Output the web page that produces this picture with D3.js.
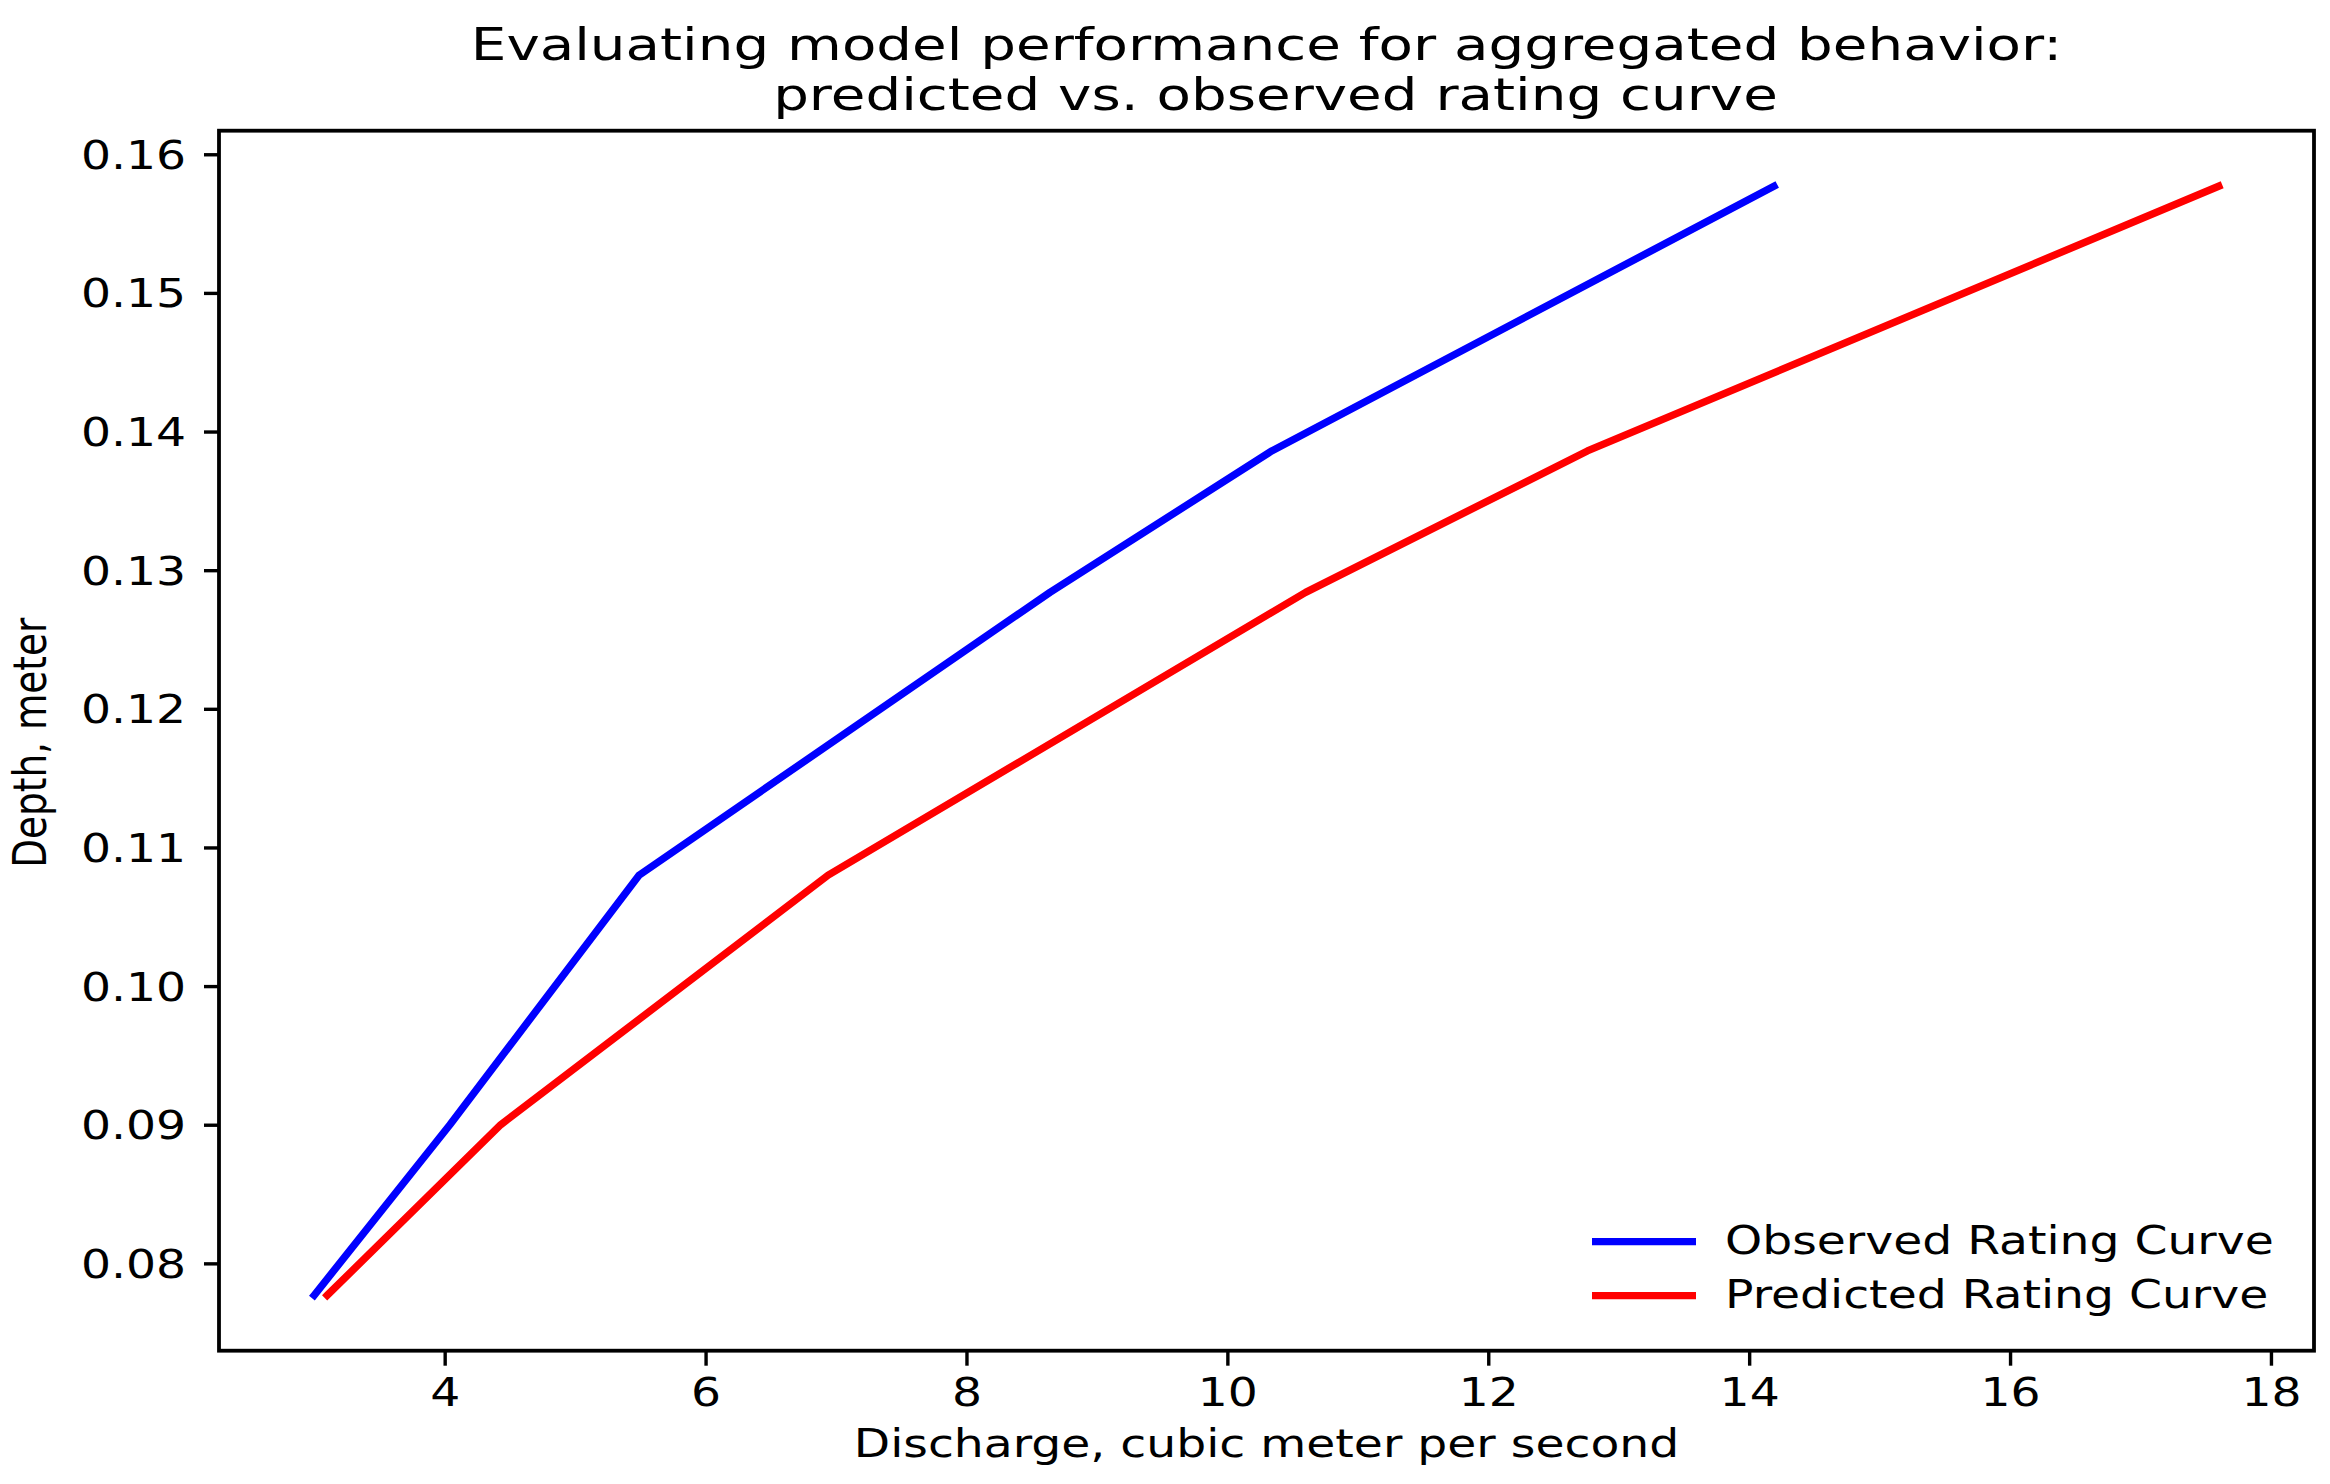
<!DOCTYPE html>
<html>
<head>
<meta charset="utf-8">
<script src="https://cdn.jsdelivr.net/npm/d3@7"></script>
<style>
  html, body { margin: 0; padding: 0; background: #fff; }
  text { font-family: "DejaVu Sans", sans-serif; fill: #000; }
</style>
</head>
<body>
<svg id="chart" width="2330" height="1484"></svg>
<script>
// ---- data ----
const depth = [0.0777, 0.0900, 0.1080, 0.1284, 0.1386, 0.1577];
const observedQ = [3.00, 4.04, 5.49, 8.64, 10.34, 14.19];
const predictedQ = [3.10, 4.43, 6.94, 10.60, 12.76, 17.60];
const seriesNames = ["Observed Rating Curve", "Predicted Rating Curve"];
const seriesColors = ["#0000ff", "#ff0000"];
const xTicks = [4, 6, 8, 10, 12, 14, 16, 18];
const yTicks = [0.08, 0.09, 0.10, 0.11, 0.12, 0.13, 0.14, 0.15, 0.16];
const titleLines = ["Evaluating model performance for aggregated behavior:", " predicted vs. observed rating curve"];
const xLabel = "Discharge, cubic meter per second";
const yLabel = "Depth, meter";

// ---- layout ----
const W = 2330, H = 1484;
const L = 219, R = 2314, T = 130.7, B = 1350.7;
const SX = 1.23;            // horizontal stretch of text
const SXT = 1.28;           // title stretch
const FS = 38.4, TFS = 44;

const svg = d3.select("#chart");
svg.append("rect").attr("width", W).attr("height", H).attr("fill", "#fff");

const allQ = observedQ.concat(predictedQ);
const qMin = d3.min(allQ), qMax = d3.max(allQ);
const qPad = (qMax - qMin) * 0.05;
const dMin = d3.min(depth), dMax = d3.max(depth);
const dPad = (dMax - dMin) * 0.05;

const x = d3.scaleLinear().domain([qMin - qPad, qMax + qPad]).range([L, R]);
const y = d3.scaleLinear().domain([dMin - dPad, dMax + dPad]).range([B, T]);

const series = [observedQ, predictedQ].map((qs, i) => ({
  name: seriesNames[i], color: seriesColors[i],
  pts: qs.map((q, j) => [q, depth[j]])
}));

const line = d3.line().x(d => x(d[0])).y(d => y(d[1]));

svg.append("g").selectAll("path").data(series).join("path")
  .attr("d", d => line(d.pts))
  .attr("fill", "none")
  .attr("stroke", d => d.color)
  .attr("stroke-width", 7.4)
  .attr("stroke-linejoin", "round")
  .attr("stroke-linecap", "square");

// ---- axes ----
const xAxis = svg.append("g").attr("transform", `translate(0,${B})`)
  .call(d3.axisBottom(x).tickValues(xTicks).tickSize(15).tickFormat(d3.format("d")));
xAxis.select(".domain").remove();
xAxis.selectAll(".tick line").attr("stroke", "#000").attr("stroke-width", 3.4);
xAxis.selectAll(".tick text")
  .attr("y", 55.5).attr("dy", null)
  .attr("transform", `scale(${SX},1)`)
  .style("font-size", FS + "px").attr("fill", "#000");

const yAxis = svg.append("g").attr("transform", `translate(${L},0)`)
  .call(d3.axisLeft(y).tickValues(yTicks).tickSize(15).tickFormat(d3.format(".2f")));
yAxis.select(".domain").remove();
yAxis.selectAll(".tick line").attr("stroke", "#000").attr("stroke-width", 3.4);
yAxis.selectAll(".tick text")
  .attr("x", -33 / SX).attr("y", 14).attr("dy", null)
  .attr("transform", `scale(${SX},1)`)
  .style("font-size", FS + "px").attr("fill", "#000");

// frame
svg.append("rect").attr("x", L).attr("y", T).attr("width", R - L).attr("height", B - T)
  .attr("fill", "none").attr("stroke", "#000").attr("stroke-width", 3.8);

// ---- titles / labels ----
const titleBase = [60, 110];
titleLines.forEach((t, i) => {
  svg.append("text")
    .attr("transform", `translate(${(L + R) / 2},${titleBase[i]}) scale(${SXT},1)`)
    .attr("text-anchor", "middle")
    .attr("xml:space", "preserve")
    .style("white-space", "pre")
    .style("font-size", TFS + "px")
    .text(t);
});

svg.append("text")
  .attr("transform", `translate(${(L + R) / 2},1457) scale(${SX},1)`)
  .attr("text-anchor", "middle")
  .style("font-size", FS + "px")
  .text(xLabel);

svg.append("text")
  .attr("transform", `translate(46,${(T + B) / 2 + 2}) scale(${SX},1) rotate(-90)`)
  .attr("text-anchor", "middle")
  .style("font-size", "37.4px")
  .text(yLabel);

// ---- legend ----
const legY = [1241.7, 1295.7];
const leg = svg.append("g").selectAll("g").data(series).join("g");
leg.append("line")
  .attr("x1", 1592).attr("x2", 1696)
  .attr("y1", (d, i) => legY[i]).attr("y2", (d, i) => legY[i])
  .attr("stroke", d => d.color).attr("stroke-width", 7.3);
leg.append("text")
  .attr("transform", (d, i) => `translate(1725,${legY[i] + 12.5}) scale(${SX},1)`)
  .style("font-size", FS + "px")
  .text(d => d.name);
</script>
</body>
</html>
